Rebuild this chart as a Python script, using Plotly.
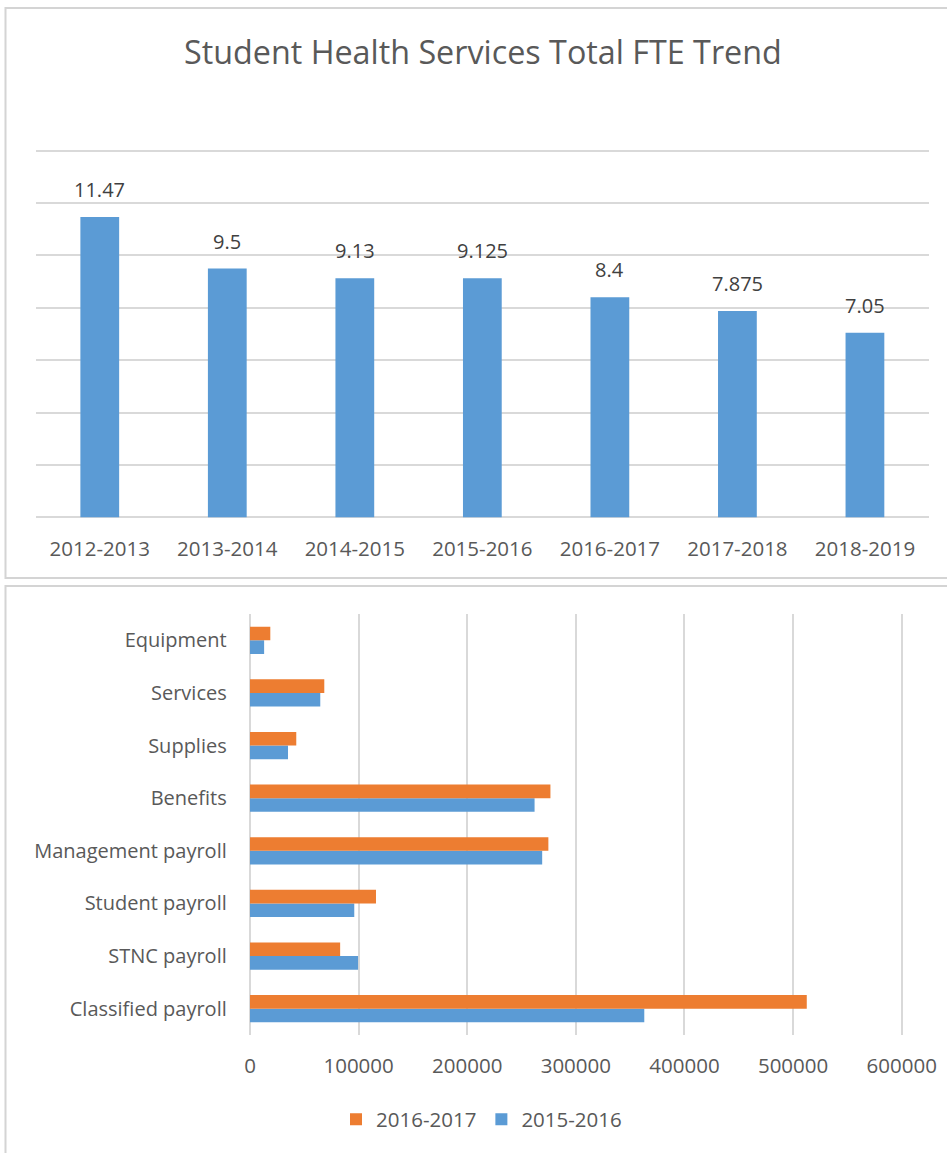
import plotly.graph_objects as go

W, H = 947, 1153

# FTE trend by academic year
years = ["2012-2013", "2013-2014", "2014-2015", "2015-2016",
         "2016-2017", "2017-2018", "2018-2019"]
fte = [11.47, 9.5, 9.13, 9.125, 8.4, 7.875, 7.05]

# Expense categories, listed from the bottom of the chart upward
categories = ["Classified payroll", "STNC payroll", "Student payroll",
              "Management payroll", "Benefits", "Supplies", "Services",
              "Equipment"]
spend_2015_16 = [363000, 99500, 96000, 269000, 262000, 35000, 64700, 13000]
spend_2016_17 = [512600, 83000, 116000, 274700, 276600, 42600, 68400, 18700]

x_ticks = [0, 100000, 200000, 300000, 400000, 500000, 600000]

BLUE = "#5b9bd5"
ORANGE = "#ed7d31"
GRID = "#d9d9d9"
TXT = "#595959"
FONT = "Open Sans"


def px_x(p):
    return p / W


def px_y(p):
    return 1 - p / H


# Top chart geometry: value 0 at y=517.3px, value 14 at y=150.7px
Y_MAX = 14
y_pad = 0.12
y_scale = (517.3 - 150.7) / Y_MAX
# Bottom chart geometry: 0 at x=250px, 600000 at x=901.7px
X_MAX = 600000
x_pad = 3000
x_scale = (901.7 - 250) / X_MAX

fig = go.Figure()

# Top chart: vertical bars
fig.add_trace(go.Bar(
    x=years, y=fte, marker=dict(color=BLUE, line=dict(width=0)),
    width=0.304, xaxis="x", yaxis="y", showlegend=False,
))

# Bottom chart: horizontal paired bars
fig.add_trace(go.Bar(
    y=categories, x=spend_2015_16, orientation="h", name="2015-2016",
    marker=dict(color=BLUE, line=dict(width=0)),
    width=0.26, offset=-0.26, xaxis="x2", yaxis="y2",
))
fig.add_trace(go.Bar(
    y=categories, x=spend_2016_17, orientation="h", name="2016-2017",
    marker=dict(color=ORANGE, line=dict(width=0)),
    width=0.26, offset=0.0, xaxis="x2", yaxis="y2",
))

# Value labels above the FTE bars
annotations = []
for yr, v in zip(years, fte):
    annotations.append(dict(
        x=yr, y=v, xref="x", yref="y", text=str(v), showarrow=False,
        yanchor="bottom", yshift=12,
        font=dict(family=FONT, size=20, color="#404040"),
    ))

annotations.append(dict(
    x=px_x(483), y=px_y(51), xref="paper", yref="paper",
    text="Student Health Services Total FTE Trend", showarrow=False,
    xanchor="center", yanchor="middle",
    font=dict(family=FONT, size=32.3, color=TXT),
))

# Panel frames
shapes = [
    dict(type="rect", xref="paper", yref="paper",
         x0=px_x(5.5), x1=px_x(960), y0=px_y(578), y1=px_y(8),
         line=dict(color="#d4d4d4", width=2), fillcolor="rgba(0,0,0,0)",
         layer="below"),
    dict(type="rect", xref="paper", yref="paper",
         x0=px_x(5.5), x1=px_x(960), y0=px_y(1170), y1=px_y(586),
         line=dict(color="#d4d4d4", width=2), fillcolor="rgba(0,0,0,0)",
         layer="below"),
]

fig.update_layout(
    width=W, height=H,
    margin=dict(l=0, r=0, t=0, b=0, autoexpand=False),
    paper_bgcolor="white", plot_bgcolor="white",
    font=dict(family=FONT, color=TXT),
    barmode="overlay",
    annotations=annotations,
    shapes=shapes,
    xaxis=dict(
        domain=[px_x(36), px_x(928.7)], anchor="y",
        type="category", showgrid=False, showline=False,
        ticks="", zeroline=False, automargin=False,
        tickfont=dict(family=FONT, size=20.5, color=TXT),
        ticklabelstandoff=14,
    ),
    yaxis=dict(
        domain=[px_y(517.3 + y_pad * y_scale), px_y(150.7 - y_pad * y_scale)],
        anchor="x", range=[-y_pad, Y_MAX + y_pad], tickvals=list(range(0, 15, 2)),
        showticklabels=False, showgrid=True, gridcolor=GRID, gridwidth=1.5,
        zeroline=False, showline=False, ticks="", automargin=False,
    ),
    xaxis2=dict(
        domain=[px_x(250 - x_pad * x_scale), px_x(901.7 + x_pad * x_scale)],
        anchor="y2", range=[-x_pad, X_MAX + x_pad], tickvals=x_ticks,
        ticktext=[str(t) for t in x_ticks],
        showgrid=True, gridcolor=GRID, gridwidth=1.5,
        zeroline=False, showline=False, ticks="", automargin=False,
        tickfont=dict(family=FONT, size=20.5, color=TXT),
        ticklabelstandoff=16,
    ),
    yaxis2=dict(
        domain=[px_y(1035), px_y(614)], anchor="x2",
        type="category", categoryorder="array", categoryarray=categories,
        range=[-0.5, 7.5], showgrid=False, zeroline=False,
        showline=False, ticks="", automargin=False,
        tickfont=dict(family=FONT, size=20, color=TXT),
        ticklabelstandoff=19,
    ),
    legend=dict(
        orientation="h", x=px_x(336), y=px_y(1119.5),
        xanchor="left", yanchor="middle", traceorder="reversed",
        font=dict(family=FONT, size=20.5, color=TXT),
        itemwidth=30, bgcolor="rgba(0,0,0,0)",
    ),
    hovermode=False,
)

fig.write_html("out.html")
